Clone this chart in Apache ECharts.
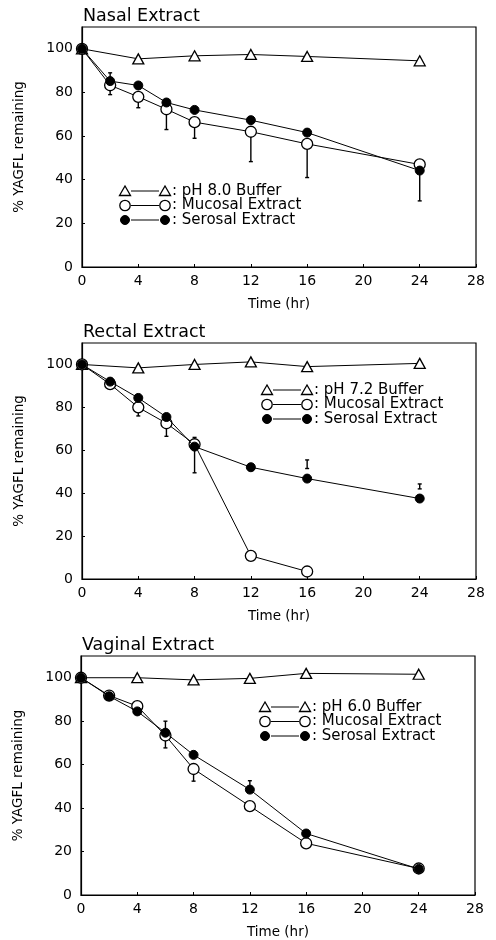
<!DOCTYPE html>
<html>
<head>
<meta charset="utf-8">
<script src="https://cdn.jsdelivr.net/npm/echarts@6/dist/echarts.min.js"></script>
<style>
html,body{margin:0;padding:0;background:#fff;}
#chart{width:496px;height:940px;}
</style>
</head>
<body>
<div id="chart"></div>
<script>
// ---- data ----
const panelTitles = ['Nasal Extract', 'Rectal Extract', 'Vaginal Extract'];
const bufferNames = ['pH 8.0 Buffer', 'pH 7.2 Buffer', 'pH 6.0 Buffer'];
const xTicks = [0, 4, 8, 12, 16, 20, 24, 28];
const yTicks = [0, 20, 40, 60, 80, 100];
const bufferTimes = [0, 4, 8, 12, 16, 24];
const extractTimes = [0, 2, 4, 6, 8, 12, 16, 24];

const nasalBuffer = [100, 95.4, 96.8, 97.4, 96.5, 94.5];
const nasalMucosal = [100, 83.3, 78, 72.3, 66.4, 62, 56.4, 47];
const nasalSerosal = [100, 85.2, 83.2, 75.4, 72, 67.3, 61.6, 44.2];
const nasalErr = [[2, 79, 89], [4, 73, 78], [6, 63, 72.3], [8, 59, 66.4], [12, 48.3, 62], [16, 41, 56.4], [24, 30.3, 44.2]];

const rectalBuffer = [100, 98.4, 100, 101.2, 99, 100.5];
const rectalMucosal = [100, 90.8, 80, 72.6, 62.8, 10.8, 3.5];
const rectalSerosal = [100, 92, 84.4, 75.5, 61.7, 52.1, 46.8, 37.5];
const rectalErr = [[4, 76, 80], [6, 66.5, 72.6], [8, 49.5, 66], [16, 51.5, 55.5], [24, 42, 44.3]];

const vaginalBuffer = [100, 100, 99, 99.7, 102, 101.6];
const vaginalMucosal = [100, 91.8, 86.9, 73.4, 58, 40.9, 23.8, 12.2];
const vaginalSerosal = [100, 91.5, 84.5, 74.7, 64.5, 48.5, 28.3, 12];
const vaginalErr = [[6, 67.7, 80], [8, 52.4, 58], [12, 48.5, 52.6]];

// ---- layout ----
const FONT = 'DejaVu Sans';
const grids = [
  {left: 82, top: 27, width: 394, height: 240},
  {left: 82, top: 343, width: 394, height: 236},
  {left: 81, top: 656, width: 394, height: 239}
];
const legendPos = [
  {x: 125, y: 191},
  {x: 267, y: 390},
  {x: 265, y: 707}
];
const panels = [
  {buffer: nasalBuffer, mucosal: nasalMucosal, serosal: nasalSerosal, err: nasalErr},
  {buffer: rectalBuffer, mucosal: rectalMucosal, serosal: rectalSerosal, err: rectalErr},
  {buffer: vaginalBuffer, mucosal: vaginalMucosal, serosal: vaginalSerosal, err: vaginalErr}
];

function pair(ts, vs) { return vs.map((v, i) => [ts[i], v]); }

const option = {
  backgroundColor: '#fff',
  animation: false,
  grid: grids.map(g => Object.assign({show: true, borderColor: '#000', borderWidth: 1.2, backgroundColor: 'transparent'}, g)),
  xAxis: grids.map((g, i) => ({
    gridIndex: i, type: 'value', min: 0, max: 28, interval: 4,
    name: 'Time (hr)', nameLocation: 'middle', nameGap: 30,
    nameTextStyle: {fontFamily: FONT, fontSize: 13.5, color: '#000'},
    axisLine: {show: true, lineStyle: {color: '#000', width: 1.2}},
    axisTick: {show: true, inside: true, length: 3, lineStyle: {color: '#000'}},
    axisLabel: {fontFamily: FONT, fontSize: 14, color: '#000', margin: 7,
      formatter: v => xTicks.indexOf(v) >= 0 ? String(v) : ''},
    splitLine: {show: false}
  })),
  yAxis: grids.map((g, i) => ({
    gridIndex: i, type: 'value', min: 0, max: 110, interval: 20,
    name: '% YAGFL remaining', nameLocation: 'middle', nameGap: 56,
    nameTextStyle: {fontFamily: FONT, fontSize: 13.5, color: '#000'},
    axisLine: {show: true, lineStyle: {color: '#000', width: 1.2}},
    axisTick: {show: true, inside: true, length: 3, lineStyle: {color: '#000'}},
    axisLabel: {fontFamily: FONT, fontSize: 14, color: '#000', margin: 9, showMaxLabel: false,
      formatter: v => yTicks.indexOf(v) >= 0 ? String(v) : ''},
    splitLine: {show: false}
  })),
  title: panelTitles.map((t, i) => ({
    text: t, left: grids[i].left - 4, top: grids[i].top - 25,
    textStyle: {fontFamily: FONT, fontSize: 17.5, fontWeight: 'normal', color: '#000'}
  })),
  series: [],
  graphic: []
};

panels.forEach((p, i) => {
  option.series.push({
    type: 'custom', xAxisIndex: i, yAxisIndex: i, z: 1,
    data: p.err,
    renderItem: function (params, api) {
      const lo = api.coord([api.value(0), api.value(1)]);
      const hi = api.coord([api.value(0), api.value(2)]);
      const st = {stroke: '#000', lineWidth: 1.4};
      return {type: 'group', children: [
        {type: 'line', shape: {x1: lo[0], y1: lo[1], x2: hi[0], y2: hi[1]}, style: st},
        {type: 'line', shape: {x1: lo[0] - 2, y1: lo[1], x2: lo[0] + 2, y2: lo[1]}, style: st},
        {type: 'line', shape: {x1: hi[0] - 2, y1: hi[1], x2: hi[0] + 2, y2: hi[1]}, style: st}
      ]};
    }
  });
  option.series.push({
    type: 'line', name: bufferNames[i], xAxisIndex: i, yAxisIndex: i, z: 3,
    data: pair(bufferTimes, p.buffer),
    symbol: 'triangle', symbolSize: [11, 10],
    lineStyle: {color: '#000', width: 1},
    itemStyle: {color: '#fff', borderColor: '#000', borderWidth: 1.3}
  });
  option.series.push({
    type: 'line', name: 'Mucosal Extract', xAxisIndex: i, yAxisIndex: i, z: 3,
    data: pair(extractTimes, p.mucosal),
    symbol: 'circle', symbolSize: 11,
    lineStyle: {color: '#000', width: 1},
    itemStyle: {color: '#fff', borderColor: '#000', borderWidth: 1.3}
  });
  option.series.push({
    type: 'line', name: 'Serosal Extract', xAxisIndex: i, yAxisIndex: i, z: 4,
    data: pair(extractTimes, p.serosal),
    symbol: 'circle', symbolSize: 9,
    lineStyle: {color: '#000', width: 1},
    itemStyle: {color: '#000', borderColor: '#000', borderWidth: 1}
  });

  // legend drawn as graphic
  const L = legendPos[i];
  const rowGap = 14.5;
  const labels = [bufferNames[i], 'Mucosal Extract', 'Serosal Extract'];
  const children = [];
  labels.forEach((lab, r) => {
    const y = L.y + r * rowGap;
    const x1 = L.x, x2 = L.x + 40;
    children.push({type: 'line', shape: {x1: x1 + 6, y1: y, x2: x2 - 6, y2: y}, style: {stroke: '#000', lineWidth: 1}});
    [x1, x2].forEach(cx => {
      if (r === 0) {
        children.push({type: 'polygon', shape: {points: [[cx, y - 5], [cx - 5.5, y + 4.5], [cx + 5.5, y + 4.5]]}, style: {fill: '#fff', stroke: '#000', lineWidth: 1.3}});
      } else if (r === 1) {
        children.push({type: 'circle', shape: {cx: cx, cy: y, r: 5.2}, style: {fill: '#fff', stroke: '#000', lineWidth: 1.3}});
      } else {
        children.push({type: 'circle', shape: {cx: cx, cy: y, r: 4.5}, style: {fill: '#000', stroke: '#000', lineWidth: 1}});
      }
    });
    children.push({type: 'text', style: {text: ': ' + lab, x: x2 + 7, y: y, fill: '#000', font: '15px "' + FONT + '"', textVerticalAlign: 'middle', verticalAlign: 'middle'}});
  });
  option.graphic.push({type: 'group', z: 10, children: children});
});

const chart = echarts.init(document.getElementById('chart'), null, {renderer: 'canvas'});
chart.setOption(option);
</script>
</body>
</html>
